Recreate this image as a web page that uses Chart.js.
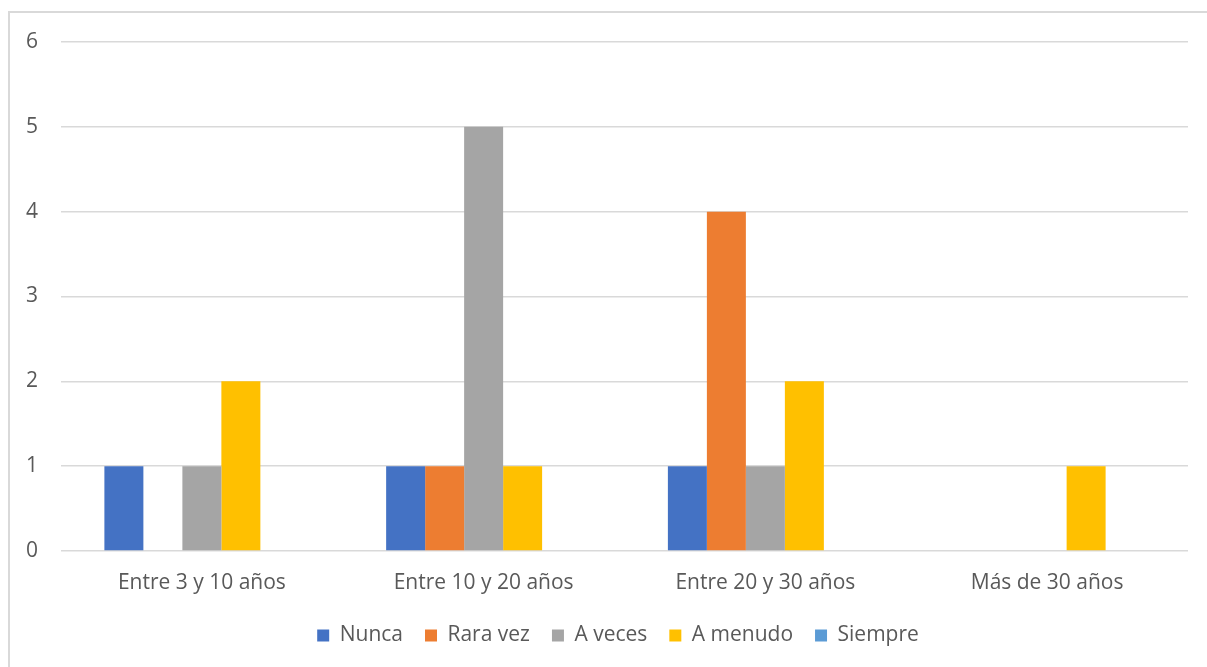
<!DOCTYPE html>
<html>
<head>
<meta charset="utf-8">
<script src="https://cdn.jsdelivr.net/npm/chart.js@4"></script>
<style>
  body { margin: 0; background: #fff; overflow: hidden; }
  .frame {
    position: absolute; left: 8px; top: 11px;
    width: 1300px; height: 700px;
    border: 2px solid #d9d9d9; box-sizing: border-box;
  }
  #chart { position: absolute; left: 0; top: 0; }
</style>
</head>
<body>
<div class="frame"></div>
<canvas id="chart" width="1207" height="667"></canvas>
<script>
const categories = ["Entre 3 y 10 años", "Entre 10 y 20 años", "Entre 20 y 30 años", "Más de 30 años"];
const nunca = [1, 1, 1, 0];
const raraVez = [0, 1, 4, 0];
const aVeces = [1, 5, 1, 0];
const aMenudo = [2, 1, 2, 1];
const siempre = [0, 0, 0, 0];

const textColor = "#595959";
const gridColor = "#d9d9d9";
const font = { family: "'Open Sans', sans-serif", size: 21 };

const series = [
  { label: "Nunca", data: nunca, color: "#4472C4" },
  { label: "Rara vez", data: raraVez, color: "#ED7D31" },
  { label: "A veces", data: aVeces, color: "#A5A5A5" },
  { label: "A menudo", data: aMenudo, color: "#FFC000" },
  { label: "Siempre", data: siempre, color: "#5B9BD5" },
];

// centre the legend under the plot area rather than the whole canvas
const legendShift = {
  id: "legendShift",
  afterLayout(chart) {
    chart.legend.left += 48;
  },
};

const ctx = document.getElementById("chart").getContext("2d");
new Chart(ctx, {
  type: "bar",
  data: {
    labels: categories,
    datasets: series.map(s => ({
      label: s.label,
      data: s.data,
      backgroundColor: s.color,
      borderWidth: 0,
      barPercentage: 1,
      categoryPercentage: 0.692,
    })),
  },
  plugins: [legendShift],
  options: {
    responsive: false,
    animation: false,
    layout: { padding: { left: 0, right: 19, top: 42, bottom: 11 } },
    plugins: {
      tooltip: { enabled: false },
      legend: {
        position: "bottom",
        labels: {
          color: textColor,
          font: font,
          boxWidth: 12,
          boxHeight: 12,
          padding: 22,
        },
      },
    },
    scales: {
      x: {
        grid: { display: false },
        border: { display: false },
        ticks: { color: textColor, font: font, padding: 11, maxRotation: 0 },
        afterFit: scale => { scale.height = 52; },
      },
      y: {
        min: 0,
        max: 6,
        ticks: { stepSize: 1, color: textColor, font: font, padding: 23 },
        grid: { color: gridColor, lineWidth: 1.5, drawTicks: false },
        border: { display: false },
        afterFit: scale => { scale.width = 61; },
      },
    },
  },
});
</script>
</body>
</html>
